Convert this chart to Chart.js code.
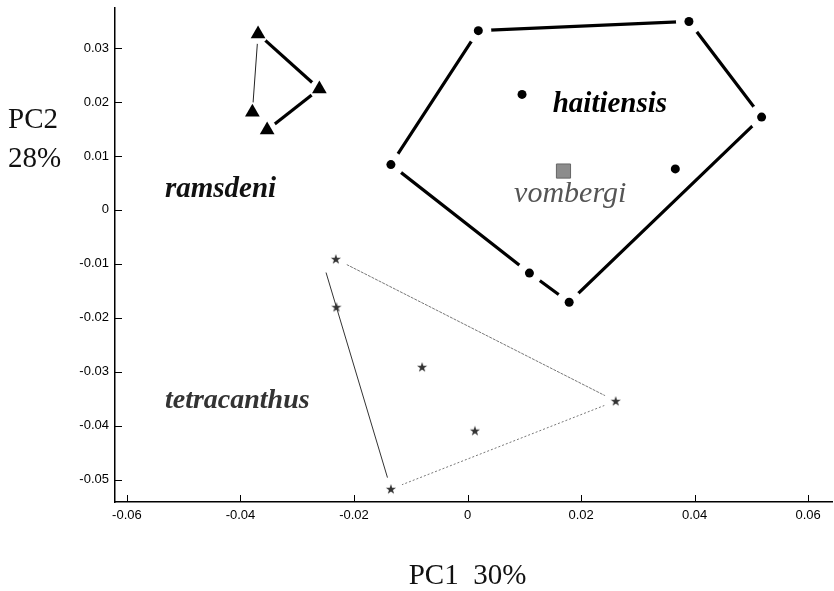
<!DOCTYPE html>
<html>
<head>
<meta charset="utf-8">
<script src="https://cdn.jsdelivr.net/npm/chart.js@4.4.1/dist/chart.umd.min.js"></script>
<style>
  html, body { margin: 0; padding: 0; background: #fff; overflow: hidden; }
  #wrap { position: relative; width: 834px; height: 591px; }
  #myChart { display: block; }
</style>
</head>
<body>
<div id="wrap"><canvas id="myChart"></canvas></div>
<script>
// PC scores
const ramsdeniX = [-0.0369, -0.0261, -0.0379, -0.0353];
const ramsdeniY = [0.0326, 0.0224, 0.0181, 0.0148];
const haitiensisX = [0.0019, 0.0390, 0.0096, 0.0518, -0.0135, 0.0366, 0.0109, 0.0179];
const haitiensisY = [0.0332, 0.0349, 0.0214, 0.0172, 0.0084, 0.0076, -0.0117, -0.0171];
const tetracanthusX = [-0.0232, -0.0231, -0.0080, 0.0013, 0.0261, -0.0135];
const tetracanthusY = [-0.0091, -0.0180, -0.0291, -0.0409, -0.0354, -0.0517];
const vombergiX = [0.0169];
const vombergiY = [0.0072];

// hull outlines, as point indexes
const ramsdeniBold = [[0, 1], [1, 3]];
const ramsdeniThin = [[0, 2]];
const haitiensisHull = [0, 1, 3, 7, 6, 4, 0];
const tetracanthusHull = [[0, 4], [4, 5], [5, 1]];
const tetracanthusCorners = [0, 4, 5];

const xTicks = [-0.06, -0.04, -0.02, 0, 0.02, 0.04, 0.06];
const yTicks = [-0.05, -0.04, -0.03, -0.02, -0.01, 0, 0.01, 0.02, 0.03];

const speciesNames = ['ramsdeni', 'haitiensis', 'vombergi', 'tetracanthus'];
const xTitle = 'PC1  30%';
const yTitle = ['PC2', '28%'];

function pts(xs, ys, idx) {
  if (!idx) idx = xs.map((v, i) => i);
  return idx.map(i => ({x: xs[i], y: ys[i]}));
}

// five pointed star marker
const star = document.createElement('canvas');
star.width = 12; star.height = 12;
const sg = star.getContext('2d');
sg.fillStyle = '#333';
sg.beginPath();
for (let i = 0; i < 10; i++) {
  const r = i % 2 ? 2.1 : 5.3;
  const a = -Math.PI / 2 + i * Math.PI / 5;
  sg.lineTo(6 + r * Math.cos(a), 6.4 + r * Math.sin(a));
}
sg.closePath();
sg.fill();

const datasets = [];
// markers on top
datasets.push({data: pts(ramsdeniX, ramsdeniY), pointStyle: 'triangle', pointRadius: 8.5,
  backgroundColor: '#000', borderColor: '#000', borderWidth: 0, order: 1});
datasets.push({data: pts(haitiensisX, haitiensisY), pointStyle: 'circle', pointRadius: 4.5,
  backgroundColor: '#000', borderColor: '#000', borderWidth: 0, order: 1});
datasets.push({data: pts(tetracanthusX, tetracanthusY), pointStyle: star, order: 1});
datasets.push({data: pts(vombergiX, vombergiY), pointStyle: 'rect', pointRadius: 10,
  backgroundColor: '#8c8c8c', borderColor: '#666', borderWidth: 1, order: 1});
// white gaps round the hull corners
const halo = (data, r) => ({data: data, pointRadius: r, backgroundColor: '#fff', borderWidth: 0, order: 2});
datasets.push(halo(pts(ramsdeniX, ramsdeniY), 10));
datasets.push(halo(pts(haitiensisX, haitiensisY), 13));
datasets.push(halo(pts(tetracanthusX, tetracanthusY, tetracanthusCorners), 12));
// hull lines
const edge = (data, w, col, dash) => ({data: data, showLine: true, pointRadius: 0,
  borderWidth: w, borderColor: col, borderDash: dash || [], borderCapStyle: 'butt', order: 3});
// the left tetracanthus edge runs on a little past the second star
function runOn(p, f) {
  const a = p[0], b = p[1];
  return [a, {x: b.x + (b.x - a.x) * f, y: b.y + (b.y - a.y) * f}];
}
ramsdeniBold.forEach(e => datasets.push(edge(pts(ramsdeniX, ramsdeniY, e), 3.2, '#000')));
ramsdeniThin.forEach(e => datasets.push(edge(pts(ramsdeniX, ramsdeniY, e), 1, '#222')));
datasets.push(edge(pts(haitiensisX, haitiensisY, haitiensisHull), 3.2, '#000'));
datasets.push(edge(pts(tetracanthusX, tetracanthusY, tetracanthusHull[0]), 1, '#777', [3, 1]));
datasets.push(edge(pts(tetracanthusX, tetracanthusY, tetracanthusHull[1]), 1, '#777', [2, 2]));
datasets.push(edge(runOn(pts(tetracanthusX, tetracanthusY, tetracanthusHull[2]), 0.19), 1, '#333'));

// text labels (anchor in data units, left/baseline)
const labelAt = [
  {t: speciesNames[0], x: -0.0533, y: 0.0024, font: 'bold italic 29px "Liberation Serif"', c: '#111'},
  {t: speciesNames[1], x: 0.0150, y: 0.0181, font: 'bold italic 29px "Liberation Serif"', c: '#000'},
  {t: speciesNames[2], x: 0.0082, y: 0.0015, font: 'italic 30px "Liberation Serif"', c: '#555'},
  {t: speciesNames[3], x: -0.0533, y: -0.0367, font: 'bold italic 28px "Liberation Serif"', c: '#333'}
];

const extras = {
  id: 'extras',
  afterDraw(chart) {
    const {ctx, chartArea, scales: {x, y}} = chart;
    ctx.save();
    // inside tick marks
    ctx.strokeStyle = '#000';
    ctx.lineWidth = 1;
    xTicks.forEach(v => {
      const px = Math.round(x.getPixelForValue(v)) + 0.5;
      ctx.beginPath(); ctx.moveTo(px, chartArea.bottom); ctx.lineTo(px, chartArea.bottom - 7); ctx.stroke();
    });
    yTicks.forEach(v => {
      const py = Math.round(y.getPixelForValue(v)) + 0.5;
      ctx.beginPath(); ctx.moveTo(chartArea.left, py); ctx.lineTo(chartArea.left + 7, py); ctx.stroke();
    });
    // species names
    ctx.textAlign = 'left';
    ctx.textBaseline = 'alphabetic';
    labelAt.forEach(l => {
      ctx.font = l.font;
      ctx.fillStyle = l.c;
      ctx.fillText(l.t, x.getPixelForValue(l.x), y.getPixelForValue(l.y));
    });
    // axis titles
    ctx.font = '29px "Liberation Serif"';
    ctx.fillStyle = '#111';
    ctx.fillText(yTitle[0], 8, 128);
    ctx.fillText(yTitle[1], 8, 167);
    ctx.textAlign = 'center';
    ctx.fillText(xTitle, x.getPixelForValue(0), 584);
    ctx.restore();
  }
};

const tickFont = {family: '"Liberation Sans", Arial, sans-serif', size: 13};
const fmt = v => String(+v.toFixed(2));

new Chart(document.getElementById('myChart'), {
  type: 'scatter',
  data: {datasets: datasets},
  options: {
    responsive: true,
    maintainAspectRatio: false,
    animation: false,
    layout: {autoPadding: false, padding: {top: 8, right: 2, left: 0, bottom: 0}},
    plugins: {legend: {display: false}, tooltip: {enabled: false}},
    scales: {
      x: {
        type: 'linear',
        min: -0.0621, max: 0.0642,
        afterBuildTicks: s => { s.ticks = xTicks.map(v => ({value: v})); },
        afterFit: s => { s.height = 89; s.paddingLeft = 0; s.paddingRight = 0; },
        grid: {display: true, drawOnChartArea: false, drawTicks: false},
        border: {display: true, color: '#000', width: 1.5},
        ticks: {font: tickFont, color: '#000', padding: 6, callback: fmt, maxRotation: 0, autoSkip: false}
      },
      y: {
        type: 'linear',
        min: -0.0541, max: 0.0374,
        afterBuildTicks: s => { s.ticks = yTicks.map(v => ({value: v})); },
        afterFit: s => { s.width = 115; s.paddingTop = 0; s.paddingBottom = 0; },
        grid: {display: true, drawOnChartArea: false, drawTicks: false},
        border: {display: true, color: '#000', width: 1.5},
        ticks: {font: tickFont, color: '#000', padding: 6, callback: fmt, autoSkip: false}
      }
    }
  },
  plugins: [extras]
});
</script>
</body>
</html>
